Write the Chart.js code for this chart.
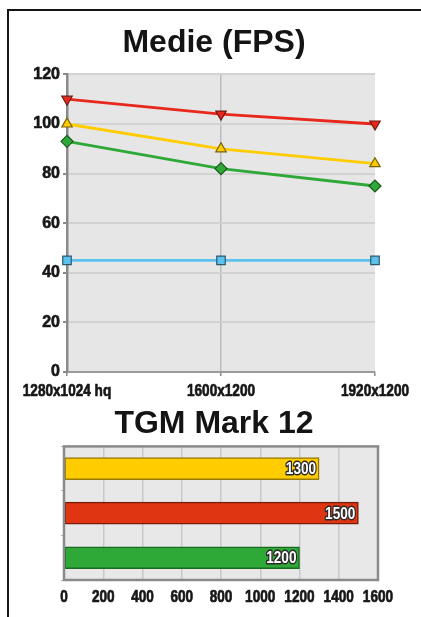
<!DOCTYPE html>
<html lang="it">
<head>
<meta charset="UTF-8">
<title>Medie (FPS) - TGM Mark 12</title>
<script src="https://cdn.jsdelivr.net/npm/chart.js"></script>
<style>
    html, body { margin: 0; padding: 0; background: #fff; }
    .page { position: relative; width: 421px; height: 617px; overflow: hidden; }
    .frame {
        position: absolute; left: 7px; top: 9px; width: 420px; height: 620px;
        border-left: 2px solid #151515; border-top: 2px solid #151515;
    }
    #fpsWrap { position: absolute; left: 0; top: 0; width: 421px; height: 405px; }
    #markWrap { position: absolute; left: 0; top: 400px; width: 421px; height: 217px; }
</style>
</head>
<body>
<div class="page">
    <div class="frame"></div>
    <div id="fpsWrap"><canvas id="fpsChart"></canvas></div>
    <div id="markWrap"><canvas id="markChart"></canvas></div>
</div>
<script>
// dati grafico FPS
const risoluzioni = ['1280x1024 hq', '1600x1200', '1920x1200'];
const fpsRosso = [110, 104, 100];
const fpsGiallo = [100, 90, 84];
const fpsVerde = [93, 82, 75];
const fpsAzzurro = [45, 45, 45];
const fpsTicks = [0, 20, 40, 60, 80, 100, 120];

// dati TGM Mark 12
const markNomi = ['Giallo', 'Rosso', 'Verde'];
const markValori = [1300, 1500, 1200];
const markTicks = [0, 200, 400, 600, 800, 1000, 1200, 1400, 1600];

const fontBase = '"Liberation Sans", Arial, sans-serif';

// testo bold "stretto" (schiacciato in orizzontale)
function testoStretto(c, txt, x, y, size, sx, align, contorno) {
    c.save();
    c.font = 'bold ' + size + 'px ' + fontBase;
    c.textAlign = align;
    c.textBaseline = 'middle';
    c.translate(x, y);
    c.scale(sx, 1);
    c.lineJoin = 'round';
    if (contorno) {
        c.strokeStyle = contorno;
        c.lineWidth = 3;
        c.strokeText(txt, 0, 0);
        c.fillStyle = '#ffffff';
    } else {
        // un filo di contorno per renderlo più pesante
        c.strokeStyle = '#161616';
        c.lineWidth = 0.7;
        c.strokeText(txt, 0, 0);
        c.fillStyle = '#161616';
    }
    c.fillText(txt, 0, 0);
    c.restore();
}

// sfondo grigio dell'area del grafico (+ eventuale cornice)
const areaGrigia = {
    id: 'areaGrigia',
    beforeDraw(chart, args, opts) {
        const a = chart.chartArea, c = chart.ctx;
        c.save();
        c.fillStyle = opts.color || '#e6e6e6';
        c.fillRect(a.left, a.top, a.right - a.left, a.bottom - a.top);
        c.restore();
    },
    afterDraw(chart, args, opts) {
        if (!opts.bordo) return;
        const a = chart.chartArea, c = chart.ctx;
        c.save();
        c.strokeStyle = opts.bordo;
        c.lineWidth = 2.5;
        c.strokeRect(a.left, a.top, a.right - a.left, a.bottom - a.top);
        c.restore();
    }
};

// etichette dell'asse x disegnate strette
const etichetteX = {
    id: 'etichetteX',
    afterDraw(chart, args, opts) {
        const scale = chart.scales.x;
        const y = scale.top + opts.distanza;
        scale.ticks.forEach((t, i) => {
            const txt = scale.type === 'category' ? scale.getLabelForValue(t.value) : String(t.value);
            testoStretto(chart.ctx, txt, scale.getPixelForTick(i), y, opts.size, opts.sx, 'center');
        });
    }
};

// valori scritti dentro le barre
const valoriBarre = {
    id: 'valoriBarre',
    afterDatasetsDraw(chart) {
        const meta = chart.getDatasetMeta(0);
        meta.data.forEach((bar, i) => {
            const txt = String(chart.data.datasets[0].data[i]);
            testoStretto(chart.ctx, txt, bar.x - 3, bar.y + 1, 17, 0.8, 'right', '#2a2a2a');
        });
    }
};

function serie(label, data, colore, bordo, stile, rot) {
    return {
        label: label,
        data: data,
        borderColor: colore,
        borderWidth: 2.8,
        backgroundColor: colore,
        pointBackgroundColor: colore,
        pointBorderColor: bordo,
        pointBorderWidth: 1.2,
        pointStyle: stile,
        pointRotation: rot || 0,
        pointRadius: 6,
        tension: 0,
        clip: false
    };
}

// asse vuoto a destra, solo per lasciare spazio
const spazioDestra = w => ({
    type: 'linear',
    position: 'right',
    grid: { display: false },
    border: { display: false },
    ticks: { display: false },
    afterFit(scale) { scale.width = w; }
});

new Chart(document.getElementById('fpsChart'), {
    type: 'line',
    data: {
        labels: risoluzioni,
        datasets: [
            serie('Rosso', fpsRosso, '#e8281c', '#6e1a12', 'triangle', 180),
            serie('Giallo', fpsGiallo, '#ffcc00', '#7a6000', 'triangle'),
            serie('Verde', fpsVerde, '#2ea836', '#1a5a1e', 'rectRot'),
            serie('Azzurro', fpsAzzurro, '#5cc2ec', '#2a5870', 'rect')
        ]
    },
    options: {
        responsive: true,
        maintainAspectRatio: false,
        animation: false,
        layout: { padding: { left: 7, right: 0, top: 0, bottom: 0 } },
        plugins: {
            legend: { display: false },
            tooltip: { enabled: false },
            title: {
                display: true,
                text: 'Medie (FPS)',
                color: '#141414',
                font: { size: 32, weight: 'bold', family: fontBase },
                padding: { top: 24, bottom: 12 }
            },
            areaGrigia: { color: '#e6e6e6' },
            etichetteX: { distanza: 19, size: 17, sx: 0.8 }
        },
        scales: {
            x: {
                offset: false,
                grid: {
                    color: ctx => ctx.index === 1 ? '#bcbcbc' : 'rgba(0,0,0,0)',
                    lineWidth: 1.5,
                    tickColor: '#8a8a8a',
                    tickLength: 4
                },
                border: { color: '#9a9a9a', width: 2 },
                ticks: { display: false },
                afterFit(scale) { scale.height = 33; }
            },
            y: {
                min: 0,
                max: 120,
                afterBuildTicks(scale) { scale.ticks = fpsTicks.map(v => ({ value: v })); },
                grid: {
                    color: '#d2d2d2',
                    lineWidth: 2,
                    tickColor: '#8a8a8a',
                    tickLength: 4
                },
                border: { color: '#8a8a8a', width: 2.5 },
                ticks: {
                    color: '#161616',
                    textStrokeColor: '#161616',
                    textStrokeWidth: 0.6,
                    font: { size: 16, weight: 'bold', family: fontBase },
                    padding: 3
                },
                afterFit(scale) { scale.width = 60; }
            },
            destra: spazioDestra(46)
        }
    },
    plugins: [areaGrigia, etichetteX]
});

new Chart(document.getElementById('markChart'), {
    type: 'bar',
    data: {
        labels: markNomi,
        datasets: [{
            data: markValori,
            backgroundColor: ['#ffcc00', '#e03512', '#2ea836'],
            borderColor: ['#9a7a00', '#7a1c0c', '#1a6a22'],
            borderWidth: 1.5,
            borderSkipped: false,
            barThickness: 22
        }]
    },
    options: {
        indexAxis: 'y',
        responsive: true,
        maintainAspectRatio: false,
        animation: false,
        layout: { padding: { left: 7, right: 0, top: 0, bottom: 0 } },
        plugins: {
            legend: { display: false },
            tooltip: { enabled: false },
            title: {
                display: true,
                text: 'TGM Mark 12',
                color: '#141414',
                font: { size: 32, weight: 'bold', family: fontBase },
                padding: { top: 5, bottom: 3 }
            },
            areaGrigia: { color: '#e8e8e8', bordo: '#8a8a8a' },
            etichetteX: { distanza: 17, size: 17, sx: 0.8 }
        },
        scales: {
            x: {
                min: 0,
                max: 1600,
                afterBuildTicks(scale) { scale.ticks = markTicks.map(v => ({ value: v })); },
                grid: { color: '#c8c8c8', lineWidth: 1.5, drawTicks: false },
                border: { display: false },
                ticks: { display: false },
                afterFit(scale) { scale.height = 37; }
            },
            y: {
                grid: {
                    offset: true,
                    drawOnChartArea: false,
                    tickColor: '#b0b0b0',
                    tickLength: 3
                },
                border: { display: false },
                ticks: { display: false },
                afterFit(scale) { scale.width = 57; }
            },
            destra: spazioDestra(43)
        }
    },
    plugins: [areaGrigia, etichetteX, valoriBarre]
});
</script>
</body>
</html>
